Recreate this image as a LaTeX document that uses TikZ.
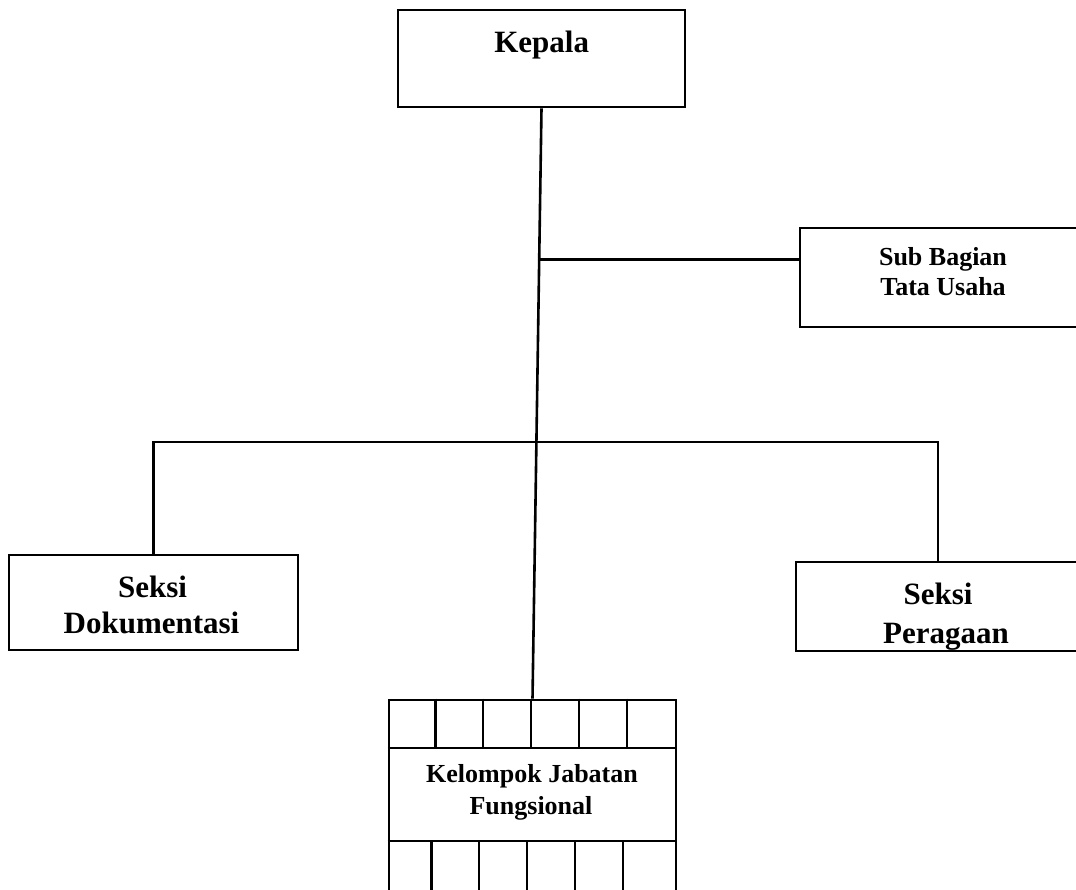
\documentclass[tikz,border=0pt]{standalone}
\usepackage{fontspec}
\setmainfont{Liberation Serif}
\usetikzlibrary{calc}
\begin{document}
\begin{tikzpicture}[x=1pt,y=-1pt,
  box/.style={draw, line width=2.6pt, rectangle, inner sep=0pt},
  conn/.style={line width=2.6pt},
  grid/.style={line width=2.2pt},
  big/.style={font=\fontsize{31}{36}\selectfont\bfseries, anchor=base, inner sep=0pt},
  small/.style={font=\fontsize{26}{30}\selectfont\bfseries, anchor=base, inner sep=0pt}]
\useasboundingbox (0,0) rectangle (1076,889);
\clip (0,0) rectangle (1076,889);
% boxes
\node[box, minimum width=287pt, minimum height=97pt] (kepala) at (541.5,58.5) {};
\node[box, minimum width=286pt, minimum height=99pt] (tu) at (943,277.5) {};
\node[box, minimum width=289pt, minimum height=95pt] (dok) at (153.5,602.5) {};
\node[box, minimum width=284pt, minimum height=89pt] (per) at (938,606.5) {};
\node[box, minimum width=287pt, minimum height=192pt] (jf) at (532.5,796) {};
% texts
\node[big] (tkepala) at (541.7,52) {Kepala};
\node[small] (ttu1) at (943,265) {Sub Bagian};
\node[small] (ttu2) at (943,295) {Tata Usaha};
\node[big] (tdok1) at (152.5,597) {Seksi};
\node[big] (tdok2) at (151.5,633) {Dokumentasi};
\node[big] (tper1) at (938,604) {Seksi};
\node[big] (tper2) at (946,643) {Peragaan};
\node[small] (tjf1) at (532,782) {Kelompok Jabatan};
\node[small] (tjf2) at (531,814) {Fungsional};
% grid inside the functional group box
\draw[grid] (jf.west |- 0,748) -- (jf.east |- 0,748);
\draw[grid] (jf.west |- 0,841) -- (jf.east |- 0,841);
\foreach \k in {1,...,5} {
  \draw[grid] ($(jf.north west)+(\k*47.83,0)$) -- ++(0,48);
  \draw[grid] ($(jf.south west)+(\k*47.83-4,-51)$) -- ++(0,60);
}
% connectors
\draw[conn] (kepala.south) -- (jf.north);
\coordinate (j1) at ($(kepala.south)!0.2563!(jf.north)$);
\coordinate (j2) at ($(kepala.south)!0.5649!(jf.north)$);
\draw[conn] (j1) -- (j1 -| tu.west);
\draw[conn] (dok.north) |- (j2) -| (per.north);
\end{tikzpicture}
\end{document}
